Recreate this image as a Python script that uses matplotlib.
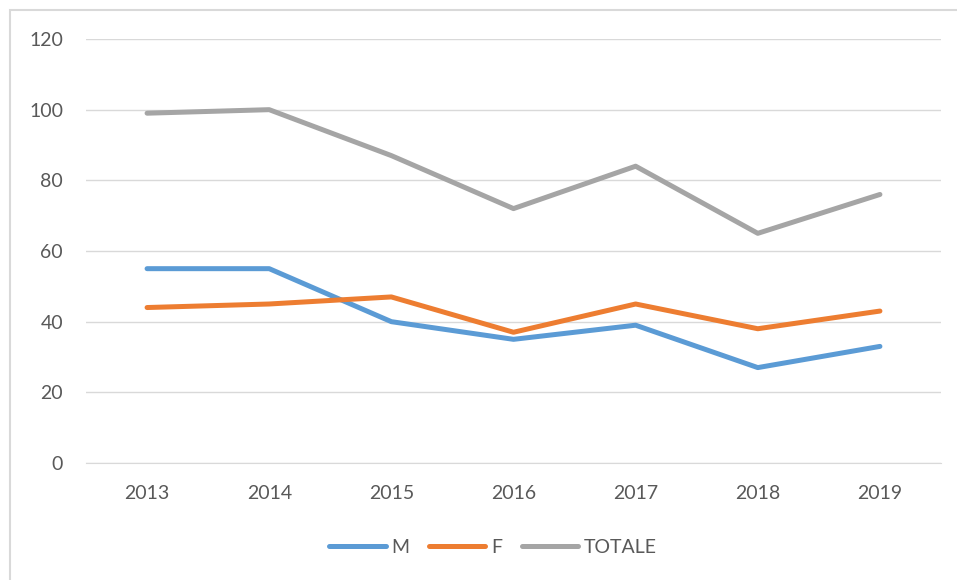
import matplotlib
matplotlib.use("Agg")
import matplotlib.pyplot as plt
from matplotlib.patches import Rectangle

years = ["2013", "2014", "2015", "2016", "2017", "2018", "2019"]
m_vals = [55, 55, 40, 35, 39, 27, 33]
f_vals = [44, 45, 47, 37, 45, 38, 43]
tot_vals = [99, 100, 87, 72, 84, 65, 76]

plt.rcParams["font.family"] = ["Lato", "DejaVu Sans"]

fig = plt.figure(figsize=(9.57, 5.8), dpi=100)
fig.patches.append(Rectangle((10 / 957, -0.1), 1.2, 1 - 10 / 580 + 0.1,
                             transform=fig.transFigure, fill=False,
                             edgecolor="#D9D9D9", lw=1.5))
ax = fig.add_axes([86 / 957, 1 - 463 / 580, (941 - 86) / 957, (463 - 39) / 580])

x = range(len(years))
for vals, col, lab in [(m_vals, "#5B9BD5", "M"),
                       (f_vals, "#ED7D31", "F"),
                       (tot_vals, "#A5A5A5", "TOTALE")]:
    ax.plot(x, vals, color=col, lw=3.6, label=lab,
            solid_capstyle="round", solid_joinstyle="round")

ax.set_xlim(-0.5, len(years) - 0.5)
ax.set_ylim(0, 120)
ax.set_yticks(range(0, 121, 20))
ax.set_xticks(list(x))
ax.set_xticklabels(years)
ax.grid(axis="y", color="#D9D9D9", lw=1)
ax.set_axisbelow(True)
for s in ["top", "right", "left"]:
    ax.spines[s].set_visible(False)
ax.spines["bottom"].set_color("#D9D9D9")
ax.tick_params(length=0, labelsize=14, colors="#595959")
ax.tick_params(axis="y", pad=16.5)
ax.tick_params(axis="x", pad=16)

leg = ax.legend(loc="center", bbox_to_anchor=(0.476, -0.2), ncol=3, frameon=False,
                fontsize=14, handlelength=2.9, handletextpad=0.3,
                columnspacing=1.0)
for t in leg.get_texts():
    t.set_color("#595959")

fig.savefig("out.png", dpi=100)
